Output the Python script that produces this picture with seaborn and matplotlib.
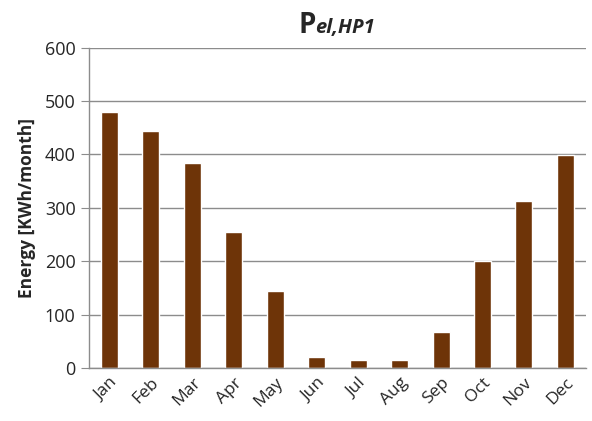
import matplotlib
matplotlib.use("Agg")
import matplotlib.pyplot as plt
import seaborn as sns
import pandas as pd

months = ["Jan", "Feb", "Mar", "Apr", "May", "Jun", "Jul", "Aug", "Sep", "Oct", "Nov", "Dec"]
energy = [480, 444, 384, 255, 145, 20, 15, 15, 68, 200, 312, 398]
y_ticks = [0, 100, 200, 300, 400, 500, 600]

sns.set_style("white")
plt.rcParams['font.family'] = ['Open Sans', 'DejaVu Sans']

df = pd.DataFrame({"month": months, "energy": energy})

fig = plt.figure(figsize=(5.92, 4.21), dpi=100)
ax = fig.add_axes([0.150, 0.126, 0.840, 0.761])

sns.barplot(data=df, x="month", y="energy", color="#6E3408", width=0.41,
            saturation=1, ax=ax)

ax.set_ylim(0, 600)
ax.set_yticks(y_ticks)
ax.set_xlim(-0.5, 11.5)
ax.yaxis.grid(True, color="#8c8c8c", linewidth=1)
ax.set_axisbelow(True)
for s in ["top", "right"]:
    ax.spines[s].set_visible(False)
for s in ["left", "bottom"]:
    ax.spines[s].set_color("#8c8c8c")
    ax.spines[s].set_linewidth(1)

# x ticks at category boundaries
ax.set_xticks([i - 0.5 for i in range(13)], minor=True)
ax.tick_params(axis="x", which="minor", length=6, color="#8c8c8c", direction="out")
ax.tick_params(axis="x", which="major", length=0, labelsize=12.5, pad=5)
ax.tick_params(axis="y", length=6, color="#8c8c8c", direction="out", labelsize=13)
ax.tick_params(axis="y", which="major", left=True)
ax.set_xticks(range(12))
ax.set_xticklabels(months, rotation=45, ha="right", rotation_mode="anchor")
for lab in ax.get_xticklabels():
    lab.set_color("#262626")
for lab in ax.get_yticklabels():
    lab.set_color("#262626")

ax.set_xlabel("")
ax.set_ylabel("Energy [KWh/month]", fontsize=12.5, fontweight="bold", labelpad=6)

# title: big P with italic bold subscript part
fig.text(0.505, 0.922, "P", fontsize=20, fontweight="bold", ha="left", va="baseline")
fig.text(0.532, 0.922, "el,HP1", fontsize=14.5, fontweight="bold", style="italic",
         ha="left", va="baseline")

fig.savefig("out.png", dpi=100)
